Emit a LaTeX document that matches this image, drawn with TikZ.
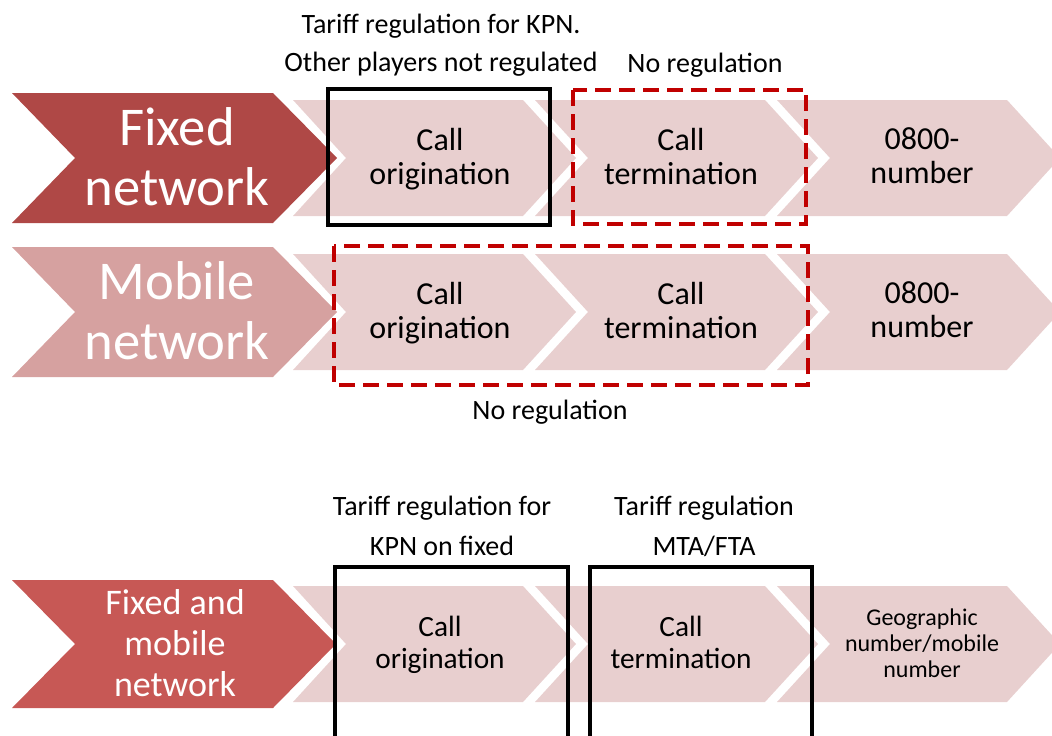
\documentclass[tikz,border=0pt]{standalone}
\usepackage{fontspec}
\setmainfont{Carlito}
\definecolor{fixedred}{HTML}{AF4846}
\definecolor{mobilepink}{HTML}{D6A1A0}
\definecolor{bothred}{HTML}{C75855}
\definecolor{chevpink}{HTML}{E8CFCF}
\definecolor{dashred}{HTML}{C00000}
\tikzset{
  bigtext/.style={text=white, align=center, inner sep=0pt, font=\fontsize{41}{45.5}\selectfont,
    execute at begin node=\strut, execute at end node=\strut},
  steptext/.style={align=center, inner sep=0pt, font=\fontsize{24}{25.5}\selectfont,
    execute at begin node=\strut, execute at end node=\strut},
  lbl/.style={align=center, inner sep=0pt, font=\fontsize{21}{28.5}\selectfont,
    execute at begin node=\strut, execute at end node=\strut},
  blackbox/.style={draw=black, line width=3pt},
  redbox/.style={draw=dashred, line width=3pt, dash pattern=on 12pt off 6pt}
}
\begin{document}
\begin{tikzpicture}[x=0.75pt,y=-0.75pt]
\useasboundingbox (0,0) rectangle (1052,735);
\fill[fixedred] (12,93) -- (273,93) -- (337,158) -- (273,223) -- (12,223) -- (75,158) -- cycle;
\fill[mobilepink] (12,247) -- (273,247) -- (337,312) -- (273,377) -- (12,377) -- (75,312) -- cycle;
\fill[bothred] (12,580) -- (273,580) -- (336,644) -- (273,708) -- (12,708) -- (75,644) -- cycle;
\foreach \c in {158,312,644}
  \foreach \i in {0,1,2}
    \fill[chevpink] (293+242*\i,\c-58) -- ++(230,0) -- ++(53,58) -- ++(-53,58) -- ++(-230,0) -- ++(53,-58) -- cycle;

\draw[blackbox] (328,89) rectangle (550,225);
\draw[redbox] (573,90) rectangle (806,224);
\draw[redbox] (334,246) rectangle (808,385);
\draw[blackbox] (335,740) -- (335,567) -- (568,567) -- (568,740);
\draw[blackbox] (590,740) -- (590,567) -- (812,567) -- (812,740);

\node[bigtext] (fixed) at (177,165.5) {Fixed\\network};
\node[bigtext] (mobile) at (177,319.5) {Mobile\\network};
\node[bigtext, font=\fontsize{27}{30.5}\selectfont] (fixmob) at (175,649) {Fixed and\\mobile\\network};

\node[steptext] (orig1) at (440,161) {Call\\origination};
\node[steptext] (term1) at (681,161) {Call\\termination};
\node[steptext] (free1) at (922,161) {0800-\\number};
\node[steptext] (orig2) at (440,315) {Call\\origination};
\node[steptext] (term2) at (681,315) {Call\\termination};
\node[steptext] (free2) at (922,315) {0800-\\number};
\node[steptext, font=\fontsize{22}{24}\selectfont] (orig3) at (440,647) {Call\\origination};
\node[steptext, font=\fontsize{22}{24}\selectfont] (term3) at (681,647) {Call\\termination};
\node[steptext, font=\fontsize{18}{19.5}\selectfont] (geo3) at (922,647) {Geographic\\number/mobile\\number};

\node[lbl] (kpnlbl) at (441,48.5) {Tariff regulation for KPN.\\Other players not regulated};
\node[lbl, anchor=base] (noreg1) at (705,73) {No regulation};
\node[lbl, anchor=base] (noreg2) at (550,419) {No regulation};
\node[lbl, font=\fontsize{21}{30}\selectfont] (fixlbl) at (442,532) {Tariff regulation for\\KPN on fixed};
\node[lbl, font=\fontsize{21}{30}\selectfont] (mtalbl) at (704,532) {Tariff regulation\\MTA/FTA};
\end{tikzpicture}
\end{document}
